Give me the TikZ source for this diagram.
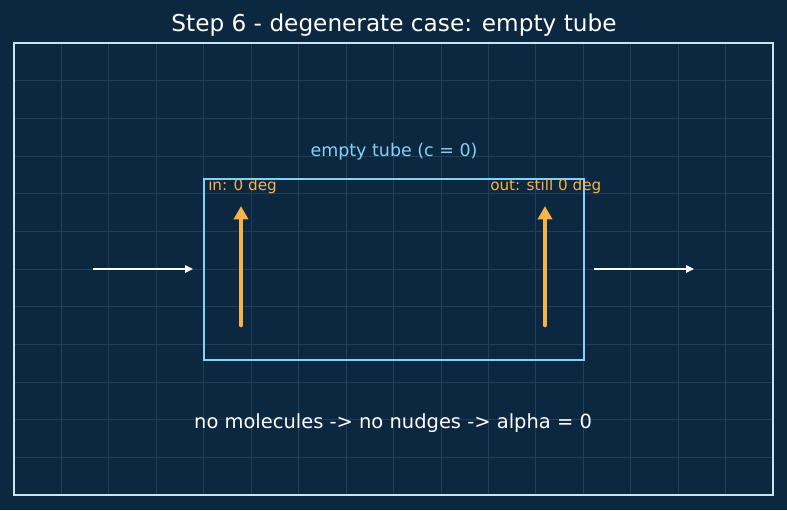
\documentclass[tikz,border=0pt]{standalone}
\usepackage{fontspec}
\setmainfont{DejaVu Sans}
\usepackage{tikz}
\usetikzlibrary{arrows.meta}
\definecolor{bgnavy}{HTML}{0C2841}
\definecolor{gridblue}{HTML}{223F59}
\definecolor{framecol}{HTML}{C9E3F2}
\definecolor{tubeblue}{HTML}{85D2F7}
\definecolor{nudgeorange}{HTML}{F7B24A}
\tikzset{
  flow/.style={draw=white, line width=1.5pt, -{Triangle[length=6pt,width=5.5pt]}},
  vec/.style={draw=nudgeorange, line width=3.4pt, line cap=round, -{Triangle[length=10pt,width=10.5pt]}},
  lbl/.style={inner sep=0.75pt},
}
\begin{document}
\begin{tikzpicture}[x=0.75pt,y=0.75pt,yscale=-1,xscale=1]
				\fill[bgnavy] (0,0) rectangle (787,510);
				\useasboundingbox (0,0) rectangle (787,510);
				% grid
				\foreach \k in {1,...,15}
					\draw[gridblue, line width=0.6pt] ({14+47.44*\k},43) -- ({14+47.44*\k},495);
				\foreach \k in {1,...,11}
					\draw[gridblue, line width=0.6pt] (14,{43+37.67*\k}) -- (773,{43+37.67*\k});
				\draw[framecol, line width=1.6pt] (14,43) rectangle (773,495);
				% tube
				\draw[tubeblue, line width=2.2pt] (204,179) rectangle (584,360);
				\node (title) [lbl, text=white, font=\fontsize{17.4}{20}\selectfont] at (394,25) {Step 6 - degenerate case: empty tube};
				\node (tube) [lbl, text=tubeblue, font=\fontsize{13.1}{15}\selectfont] at (394,152) {empty tube (c = 0)};
				\node (inlbl) [lbl, anchor=west, text=nudgeorange, font=\fontsize{11.4}{13}\selectfont] at (207,186) {in: 0 deg};
				\node (outlbl) [lbl, anchor=west, text=nudgeorange, font=\fontsize{11.4}{13}\selectfont] at (489,186) {out: still 0 deg};
				\node (summary) [lbl, text=white, font=\fontsize{14.6}{17}\selectfont] at (393,423) {no molecules -> no nudges -> alpha = 0};
				% in/out directions
				\coordinate (inbase) at (241,325);
				\coordinate (intip) at (241,206);
				\coordinate (outbase) at (545,325);
				\coordinate (outtip) at (545,206);
				\draw[vec] (inbase) -- (intip);
				\draw[vec] (outbase) -- (outtip);
				% incoming and outgoing ray
				\coordinate (rayA) at (93,269);
				\coordinate (rayB) at (193,269);
				\coordinate (rayC) at (594,269);
				\coordinate (rayD) at (694,269);
				\draw[flow] (rayA) -- (rayB);
				\draw[flow] (rayC) -- (rayD);
\end{tikzpicture}
\end{document}
